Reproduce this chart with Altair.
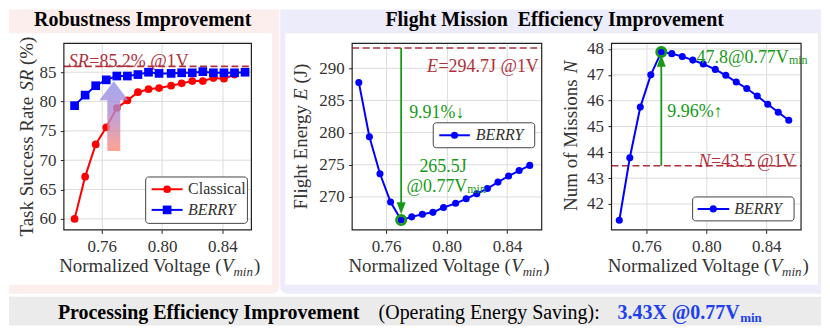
import altair as alt
import pandas as pd

# ---------------- values ----------------
voltage = [0.742, 0.749, 0.756, 0.763, 0.770, 0.777, 0.784, 0.791, 0.798,
           0.806, 0.813, 0.820, 0.827, 0.834, 0.841, 0.848, 0.855]
sr_classical = [60.0, 67.2, 72.7, 75.6, 78.9, 80.2, 81.6, 82.1, 82.3,
                82.7, 83.1, 83.5, 83.5, 84.0, 83.9, 84.6]
sr_berry = [79.3, 81.1, 82.7, 83.7, 84.35, 84.35, 84.6, 85.0, 84.8,
            84.8, 84.9, 84.9, 85.1, 84.9, 84.9, 84.9, 85.0]
energy_berry = [287.8, 279.35, 273.6, 269.2, 266.4, 266.9, 267.3, 267.6, 268.35,
                269.0, 269.7, 270.5, 271.3, 272.3, 273.25, 274.1, 274.9]
missions_berry = [41.37, 43.79, 45.75, 47.0, 47.88, 47.82, 47.71, 47.57, 47.42,
                  47.21, 46.98, 46.72, 46.47, 46.18, 45.86, 45.55, 45.24]

volt_ticks = [0.76, 0.80, 0.84]
sr_ticks = [60, 65, 70, 75, 80, 85]
energy_ticks = [270, 275, 280, 285, 290]
missions_ticks = [42, 43, 44, 45, 46, 47, 48]

sr_ref = 86.0          # dashed "@1V" line as drawn
energy_ref = 293.15
missions_ref = 43.48
opt_idx = 4            # the 0.77 Vmin point
sr_arrow = [0.768, 83.47]      # tip of the big gradient arrow
energy_arrow_tip = 267.3
missions_arrow_tip = 47.78
energy_txt_y = [283.0, 274.6, 271.5]
missions_txt_y = [47.65, 45.57]

series_names = ["Classical", "BERRY"]
title_left = "Robustness Improvement"
title_right = "Flight Mission\u00a0 Efficiency Improvement"
bottom_texts = ["Processing Efficiency Improvement", "(Operating Energy Saving):", "3.43X @0.77V", "min"]
x_title = ["Normalized Voltage (", "V", "min", ")"]
y_titles = [["Task Success Rate", "SR", "(%)"], ["Flight Energy", "E", "(J)"], ["Num of Missions", "N"]]
ref_texts = [["SR", "=85.2% @1V"], ["E", "=294.7J @1V"], ["N", "=43.5 @1V"]]
green_texts = ["9.91%\u2193", "265.5J", "@0.77V", "min", "47.8@0.77V", "min", "9.96%\u2191"]

# ---------------- styles ----------------
FONT = "Liberation Serif"
H = 187
TXT = "#333333"
GRID = "#dcdcdc"
FRAME = "#222222"
DASH = "#b0303c"
GREEN = "#179a17"
ONE = pd.DataFrame({"k": [0]})


def ptext(text, x, y, size, color=TXT, style="normal", weight="normal",
          align="left", baseline="alphabetic", angle=0):
    mk = dict(text=text, font=FONT, fontSize=size, color=color, fontStyle=style,
              fontWeight=weight, align=align, baseline=baseline)
    if angle:
        mk["angle"] = angle
    return alt.Chart(ONE).mark_text(**mk).encode(x=alt.value(x), y=alt.value(y))


def prect(x1, x2, y1, y2, **kw):
    return alt.Chart(ONE).mark_rect(**kw).encode(
        x=alt.value(x1), x2=alt.value(x2), y=alt.value(y1), y2=alt.value(y2))


def legend(box, rows):
    out = [prect(box[0], box[1], box[2], box[3], fill="white", stroke="#444444",
                 strokeWidth=1, cornerRadius=3)]
    for name, color, shape, size, ry, lx1, lx2, mx, tx, style in rows:
        out.append(alt.Chart(ONE).mark_rule(color=color, strokeWidth=2).encode(
            x=alt.value(lx1), x2=alt.value(lx2), y=alt.value(ry)))
        out.append(alt.Chart(ONE).mark_point(shape=shape, size=size, filled=True,
                                             color=color, opacity=1).encode(
            x=alt.value(mx), y=alt.value(ry)))
        out.append(ptext(name, tx, ry, 16, style=style, baseline="middle"))
    return out


def axes_titles(wp, ytx, parts):
    P = wp / 2 + 64
    out = [ptext(x_title[0], P, 229.5, 19, align="right"),
           ptext(x_title[1], P + 0.5, 229.5, 19, style="italic"),
           ptext(x_title[2], P + 12, 233.5, 13, style="italic"),
           ptext(x_title[3], P + 32.5, 229.5, 19)]
    for text, y, style in parts:
        out.append(ptext(text, ytx, y, 19, style=style, baseline="middle", angle=270))
    return out


def encoders(wp, xdom, ydom, yticks):
    xs = alt.Scale(domain=xdom, range=[0, wp], nice=False, zero=False)
    ys = alt.Scale(domain=ydom, nice=False, zero=False)
    xax = alt.Axis(values=volt_ticks, format=".2f", title=None, grid=True, domain=False)
    yax = alt.Axis(values=yticks, format="d", title=None, grid=False, domain=False)

    def X(f):
        return alt.X(f, type="quantitative", scale=xs, axis=xax)

    def Y(f):
        return alt.Y(f, type="quantitative", scale=ys, axis=yax)
    return X, Y


def common(X, Y, wp, yticks, ref_y, ref_parts):
    grid = alt.Chart(pd.DataFrame({"t": yticks})).mark_rule(color=GRID, strokeWidth=1).encode(
        y=Y("t"), x=alt.value(0), x2=alt.value(wp))
    dfr = pd.DataFrame({"y": [ref_y]})
    dash = alt.Chart(dfr).mark_rule(color=DASH, strokeWidth=1.6, strokeDash=[7, 3.5]).encode(
        y=Y("y"), x=alt.value(0), x2=alt.value(wp))
    texts = []
    for text, x, dy, style in ref_parts:
        texts.append(alt.Chart(dfr).mark_text(text=text, font=FONT, fontSize=18, color=DASH,
                                             fontStyle=style, align="left", dy=dy).encode(
            y=Y("y"), x=alt.value(x)))
    return [grid, dash] + texts


def series(X, Y, xs, ys, color, shape, size):
    df = pd.DataFrame({"v": xs[:len(ys)], "y": ys})
    base = alt.Chart(df)
    return [base.mark_line(color=color, strokeWidth=2).encode(x=X("v"), y=Y("y")),
            base.mark_point(shape=shape, size=size, filled=True, color=color, opacity=1).encode(
                x=X("v"), y=Y("y"))]


def gtext(X, Y, text, v, y, dx, size=18, dy=0, align="left"):
    df = pd.DataFrame({"v": [v], "y": [y]})
    return alt.Chart(df).mark_text(text=text, font=FONT, fontSize=size, color=GREEN,
                                   align=align, dx=dx, dy=dy).encode(x=X("v"), y=Y("y"))


def frame(wp):
    return prect(0, wp, 0, H, fill="white", fillOpacity=0, stroke=FRAME, strokeWidth=1.2)


TRI_DOWN = "M0,0 L-0.75,-2 L0.75,-2 Z"
TRI_UP = "M0,0 L-0.75,2 L0.75,2 Z"
BIG_ARROW = "M0,0 L1.45,1.9 L0.65,1.9 L0.65,7 L-0.65,7 L-0.65,1.9 L-1.45,1.9 Z"

# ---------------- panel 1 ----------------
wp1 = 188
X1, Y1 = encoders(wp1, [0.7349, 0.8592], [58.13, 89.93], sr_ticks)
p1_layers = common(X1, Y1, wp1, sr_ticks, sr_ref,
                   [(ref_texts[0][0], 5, -4, "italic"), (ref_texts[0][1], 25.5, -4, "normal")])
p1_layers += series(X1, Y1, voltage, sr_classical, "red", "circle", 60)
p1_layers += series(X1, Y1, voltage, sr_berry, "blue", "square", 76)
grad = {"gradient": "linear", "x1": 0, "x2": 0, "y1": 0, "y2": 1,
        "stops": [{"offset": 0, "color": "#8d91ef"}, {"offset": 0.5, "color": "#b48bcb"},
                  {"offset": 1, "color": "#ff8a76"}]}
p1_layers.append(alt.Chart(pd.DataFrame({"v": [sr_arrow[0]], "y": [sr_arrow[1]]})).mark_point(
    shape=BIG_ARROW, size=400, filled=True, fill=grad, strokeWidth=0, opacity=0.8).encode(
    x=X1("v"), y=Y1("y")))
p1_layers += legend((82, 184, 134, 180.5), [
    (series_names[0], "red", "circle", 60, 146.3, 88, 119, 103.5, 124.5, "normal"),
    (series_names[1], "blue", "square", 76, 167, 88, 119, 103.5, 124.5, "italic")])
p1_layers.append(frame(wp1))
p1_layers += axes_titles(wp1, -37, [(y_titles[0][0], 193.75, "normal"),
                                    (y_titles[0][1], 47.6, "italic"),
                                    (y_titles[0][2], 21.75, "normal")])
p1 = alt.layer(*p1_layers).properties(width=239, height=H)

# ---------------- panel 2 ----------------
wp2 = 190
X2, Y2 = encoders(wp2, [0.7376, 0.8629], [264.88, 293.88], energy_ticks)
p2_layers = common(X2, Y2, wp2, energy_ticks, energy_ref,
                   [(ref_texts[1][0], 75, 19, "italic"), (ref_texts[1][1], 86.5, 19, "normal")])
v_opt = voltage[opt_idx]
p2_layers.append(alt.Chart(pd.DataFrame({"v": [v_opt], "y": [energy_ref], "y2": [energy_arrow_tip + 0.7]}))
                 .mark_rule(color=GREEN, strokeWidth=1.8).encode(x=X2("v"), y=Y2("y"), y2="y2:Q"))
p2_layers += series(X2, Y2, voltage, energy_berry, "blue", "circle", 50)
p2_layers.append(alt.Chart(pd.DataFrame({"v": [v_opt], "y": [energy_berry[opt_idx]]})).mark_point(
    shape="circle", size=90, filled=False, color=GREEN, strokeWidth=2.6, opacity=1).encode(
    x=X2("v"), y=Y2("y")))
p2_layers.append(alt.Chart(pd.DataFrame({"v": [v_opt], "y": [energy_arrow_tip]})).mark_point(
    shape=TRI_DOWN, size=144, filled=True, color=GREEN, opacity=1, strokeWidth=0).encode(
    x=X2("v"), y=Y2("y")))
p2_layers += [gtext(X2, Y2, green_texts[0], v_opt, energy_txt_y[0], 8),
              gtext(X2, Y2, green_texts[1], v_opt, energy_txt_y[1], 42, align="center"),
              gtext(X2, Y2, green_texts[2], v_opt, energy_txt_y[2], 5.3),
              gtext(X2, Y2, green_texts[3], v_opt, energy_txt_y[2], 66.3, size=12, dy=2)]
p2_layers += legend((81.3, 183, 79.7, 104.7), [
    (series_names[1], "blue", "circle", 50, 92.2, 87.3, 118, 102.6, 124, "italic")])
p2_layers.append(frame(wp2))
p2_layers += axes_titles(wp2, -51, [(y_titles[1][0], 166.5, "normal"),
                                    (y_titles[1][1], 56.75, "italic"),
                                    (y_titles[1][2], 40.4, "normal")])
p2 = alt.layer(*p2_layers).properties(width=210, height=H)

# ---------------- panel 3 ----------------
wp3 = 190
X3, Y3 = encoders(wp3, [0.7368, 0.8632], [41.0, 48.22], missions_ticks)
p3_layers = common(X3, Y3, wp3, missions_ticks, missions_ref,
                   [(ref_texts[2][0], 87.3, -4, "italic"), (ref_texts[2][1], 99.8, -4, "normal")])
p3_layers.append(alt.Chart(pd.DataFrame({"v": [v_opt], "y": [missions_ref], "y2": [missions_arrow_tip - 0.15]}))
                 .mark_rule(color=GREEN, strokeWidth=1.8).encode(x=X3("v"), y=Y3("y"), y2="y2:Q"))
p3_layers += series(X3, Y3, voltage, missions_berry, "blue", "circle", 50)
p3_layers.append(alt.Chart(pd.DataFrame({"v": [v_opt], "y": [missions_berry[opt_idx]]})).mark_point(
    shape="circle", size=90, filled=False, color=GREEN, strokeWidth=2.6, opacity=1).encode(
    x=X3("v"), y=Y3("y")))
p3_layers.append(alt.Chart(pd.DataFrame({"v": [v_opt], "y": [missions_arrow_tip]})).mark_point(
    shape=TRI_UP, size=144, filled=True, color=GREEN, opacity=1, strokeWidth=0).encode(
    x=X3("v"), y=Y3("y")))
p3_layers += [gtext(X3, Y3, green_texts[4], v_opt, missions_txt_y[0], 35.3),
              gtext(X3, Y3, green_texts[5], v_opt, missions_txt_y[0], 127.9, size=12, dy=2),
              gtext(X3, Y3, green_texts[6], v_opt, missions_txt_y[1], 6)]
p3_layers += legend((81.3, 183, 154, 178), [
    (series_names[1], "blue", "circle", 50, 166, 86.3, 118, 102, 123, "italic")])
p3_layers.append(frame(wp3))
p3_layers += axes_titles(wp3, -41, [(y_titles[2][0], 168, "normal"),
                                    (y_titles[2][1], 30, "italic")])
p3 = alt.layer(*p3_layers).properties(width=190, height=H)

# ---------------- background / titles (drawn first) ----------------
bg_layers = [
    prect(0, 271, -34, 251, fill="#fdeeee", cornerRadiusBottomRight=7),
    prect(272, 814, -34, 251, fill="#ececfb", cornerRadiusBottomLeft=7),
    prect(0, 814, 254, 283, fill="#ebebeb"),
    prect(0, 263.5, -10, 242, fill="white"),
    prect(277, 811, -10, 242, fill="white"),
    ptext(title_left, 134, -17, 20, color="black", weight="bold", align="center"),
    ptext(title_right, 547, -17, 20, color="black", weight="bold", align="center"),
    ptext(bottom_texts[0], 49, 276, 20, color="black", weight="bold"),
    ptext(bottom_texts[1], 370.5, 276, 20, color="black"),
    ptext(bottom_texts[2], 610, 276, 20, color="#2040f0", weight="bold"),
    ptext(bottom_texts[3], 733, 279, 13, color="#2040f0", weight="bold"),
]
bg = alt.layer(*bg_layers).properties(width=5, height=H)

chart = alt.hconcat(bg, p1, p2, p3, spacing=50, bounds="flush").properties(
    padding=0, background="white"
).configure_view(stroke="transparent").configure_axis(
    labelFont=FONT, labelFontSize=17, labelColor=TXT, tickColor=FRAME, tickSize=3.5,
    tickWidth=1, gridColor=GRID, gridWidth=1
).configure_axisX(labelPadding=5.5).configure_axisY(labelPadding=4.5)

chart.save("out.html", embed_options={"renderer": "svg", "actions": False})
